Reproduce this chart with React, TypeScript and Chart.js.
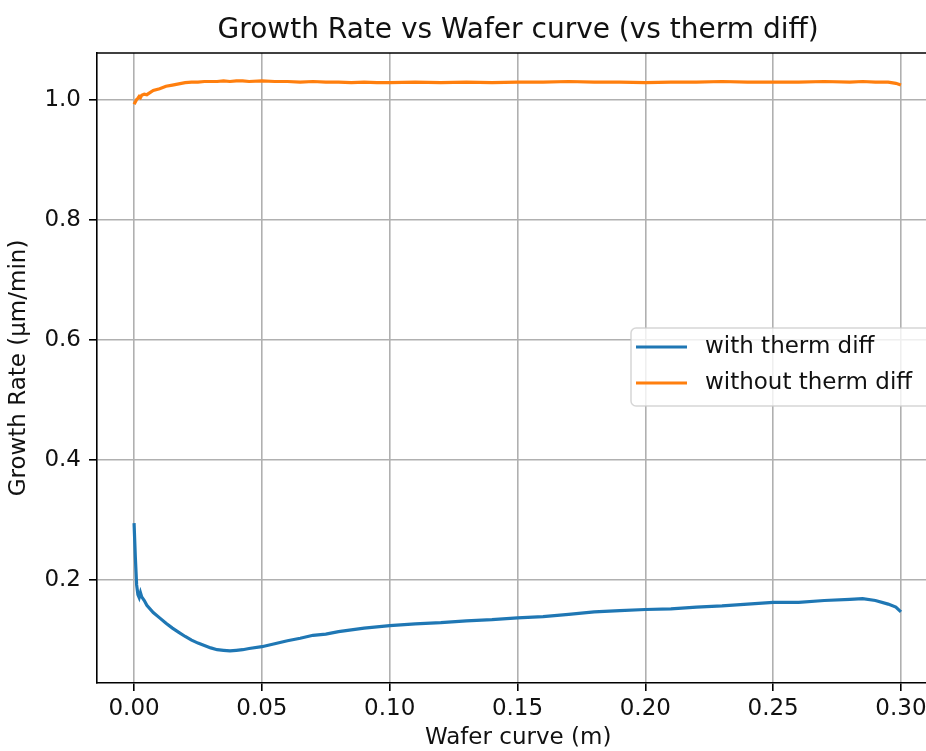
import React, { useEffect, useRef } from 'react';
import { Chart, registerables } from 'chart.js';

Chart.register(...registerables);

const xValues = [
  0, 0.0005, 0.001, 0.0015, 0.002, 0.0025, 0.003, 0.004, 0.005, 0.0075,
  0.01, 0.0125, 0.015, 0.0175, 0.02, 0.0225, 0.025, 0.0275, 0.03, 0.0325,
  0.035, 0.0375, 0.04, 0.0425, 0.045, 0.05, 0.055, 0.06, 0.065, 0.07,
  0.075, 0.08, 0.085, 0.09, 0.095, 0.1, 0.11, 0.12, 0.13, 0.14,
  0.15, 0.16, 0.17, 0.18, 0.19, 0.2, 0.21, 0.22, 0.23, 0.24,
  0.25, 0.26, 0.27, 0.28, 0.285, 0.29, 0.295, 0.298, 0.3,
];

const withThermDiff = [
  0.295, 0.238, 0.192, 0.176, 0.171, 0.179, 0.172, 0.166, 0.158, 0.146,
  0.137, 0.128, 0.12, 0.113, 0.106, 0.1, 0.095, 0.091, 0.087, 0.084,
  0.083, 0.082, 0.083, 0.084, 0.086, 0.089, 0.094, 0.099, 0.103, 0.108,
  0.11, 0.114, 0.117, 0.12, 0.122, 0.124, 0.127, 0.129, 0.132, 0.134,
  0.137, 0.139, 0.143, 0.147, 0.149, 0.151, 0.152, 0.155, 0.157, 0.16,
  0.163, 0.163, 0.166, 0.168, 0.169, 0.166, 0.16, 0.155, 0.147,
];

const withoutThermDiff = [
  0.993, 0.997, 1.001, 1.003, 1.006, 1.004, 1.008, 1.01, 1.009, 1.016,
  1.019, 1.023, 1.025, 1.027, 1.029, 1.03, 1.03, 1.031, 1.031, 1.031,
  1.032, 1.031, 1.032, 1.032, 1.031, 1.032, 1.031, 1.031, 1.03, 1.031,
  1.03, 1.03, 1.029, 1.03, 1.029, 1.029, 1.03, 1.029, 1.03, 1.029,
  1.03, 1.03, 1.031, 1.03, 1.03, 1.029, 1.03, 1.03, 1.031, 1.03,
  1.03, 1.03, 1.031, 1.03, 1.031, 1.03, 1.03, 1.028, 1.025,
];

const xTicks = [0, 0.05, 0.1, 0.15, 0.2, 0.25, 0.3];
const yTicks = [0.2, 0.4, 0.6, 0.8, 1.0];
const seriesLabels = ['with therm diff', 'without therm diff'];
const seriesColors = ['#1f77b4', '#ff7f0e'];
const chartTitle = 'Growth Rate vs Wafer curve (vs therm diff)';
const xTitle = 'Wafer curve (m)';
const yTitle = 'Growth Rate (\u03bcm/min)';

const FONT = "'DejaVu Sans', sans-serif";
const TEXT = '#111';
const AXES_X_END = 0.315; // where the axes box ends (outside the visible picture)

export default function App() {
  const ref = useRef<HTMLCanvasElement>(null);

  useEffect(() => {
    const canvas = ref.current;
    if (!canvas) return;

    const framePlugin = {
      id: 'frameAndLegend',
      afterDraw(chart: any) {
        const { ctx, chartArea } = chart;
        const xs = chart.scales.x;
        const axesRight = xs.getPixelForValue(AXES_X_END);
        const axesMid = (chartArea.left + axesRight) / 2;
        ctx.save();
        // top spine
        ctx.strokeStyle = '#000';
        ctx.lineWidth = 1.6;
        ctx.beginPath();
        ctx.moveTo(chartArea.left, chartArea.top);
        ctx.lineTo(chartArea.right, chartArea.top);
        ctx.stroke();

        // title and x axis label centred over the axes
        ctx.fillStyle = TEXT;
        ctx.textAlign = 'center';
        ctx.textBaseline = 'alphabetic';
        ctx.font = `28px ${FONT}`;
        ctx.fillText(chartTitle, axesMid, 38);
        ctx.font = `23px ${FONT}`;
        ctx.fillText(xTitle, axesMid, 744);

        // legend
        const right = axesRight - 7;
        const left = 631;
        const top = 328;
        const bottom = 406;
        const r = 5;
        ctx.beginPath();
        ctx.moveTo(left + r, top);
        ctx.lineTo(right - r, top);
        ctx.arcTo(right, top, right, top + r, r);
        ctx.lineTo(right, bottom - r);
        ctx.arcTo(right, bottom, right - r, bottom, r);
        ctx.lineTo(left + r, bottom);
        ctx.arcTo(left, bottom, left, bottom - r, r);
        ctx.lineTo(left, top + r);
        ctx.arcTo(left, top, left + r, top, r);
        ctx.closePath();
        ctx.fillStyle = 'rgba(255,255,255,0.8)';
        ctx.fill();
        ctx.strokeStyle = 'rgba(204,204,204,0.8)';
        ctx.lineWidth = 1.5;
        ctx.stroke();

        const rowsY = [347, 383];
        seriesLabels.forEach((label, i) => {
          ctx.strokeStyle = seriesColors[i];
          ctx.lineWidth = 3.2;
          ctx.beginPath();
          ctx.moveTo(636, rowsY[i]);
          ctx.lineTo(687, rowsY[i]);
          ctx.stroke();
          ctx.fillStyle = TEXT;
          ctx.font = `23px ${FONT}`;
          ctx.textBaseline = 'middle';
          ctx.textAlign = 'left';
          ctx.fillText(label, 705, rowsY[i]);
        });
        ctx.restore();
      },
    };

    const chart = new Chart(canvas, {
      type: 'line',
      data: {
        datasets: [withThermDiff, withoutThermDiff].map((ys, i) => ({
          label: seriesLabels[i],
          data: xValues.map((x, j) => ({ x, y: ys[j] })),
          borderColor: seriesColors[i],
          backgroundColor: seriesColors[i],
          borderWidth: 3.2,
          pointRadius: 0,
          tension: 0,
          fill: false,
        })),
      },
      options: {
        responsive: false,
        animation: false,
        devicePixelRatio: 1,
        layout: { padding: { top: 53, left: 0, right: 0, bottom: 0 } },
        plugins: {
          legend: { display: false },
          tooltip: { enabled: false },
          title: { display: false },
        },
        scales: {
          x: {
            type: 'linear',
            min: -0.0145,
            max: 0.3231,
            afterBuildTicks: (s: any) => {
              s.ticks = xTicks.map((v) => ({ value: v }));
            },
            afterFit: (s: any) => {
              s.height = 68;
              s.paddingRight = 0;
              s.paddingLeft = 0;
            },
            ticks: {
              callback: (v: any) => Number(v).toFixed(2),
              font: { family: FONT, size: 23 },
              color: TEXT,
              padding: 4,
              maxRotation: 0,
              autoSkip: false,
            },
            grid: {
              color: '#b0b0b0',
              lineWidth: 1.6,
              tickLength: 8,
              tickColor: '#000',
              tickWidth: 1.6,
            },
            border: { color: '#000', width: 1.6 },
            title: { display: false },
          },
          y: {
            type: 'linear',
            min: 0.0285,
            max: 1.0785,
            afterBuildTicks: (s: any) => {
              s.ticks = yTicks.map((v) => ({ value: v }));
            },
            afterFit: (s: any) => {
              s.width = 97;
            },
            ticks: {
              callback: (v: any) => Number(v).toFixed(1),
              font: { family: FONT, size: 23 },
              color: TEXT,
              padding: 8,
              autoSkip: false,
            },
            grid: {
              color: '#b0b0b0',
              lineWidth: 1.6,
              tickLength: 8,
              tickColor: '#000',
              tickWidth: 1.6,
            },
            border: { color: '#000', width: 1.6 },
            title: {
              display: true,
              text: yTitle,
              color: TEXT,
              font: { family: FONT, size: 23 },
              padding: { top: 5, bottom: 0 },
            },
          },
        },
      },
      plugins: [framePlugin],
    } as any);

    return () => chart.destroy();
  }, []);

  return (
    <canvas
      ref={ref}
      width={960}
      height={751}
      style={{ display: 'block', position: 'fixed', left: 0, top: 0, background: '#fff' }}
    />
  );
}
